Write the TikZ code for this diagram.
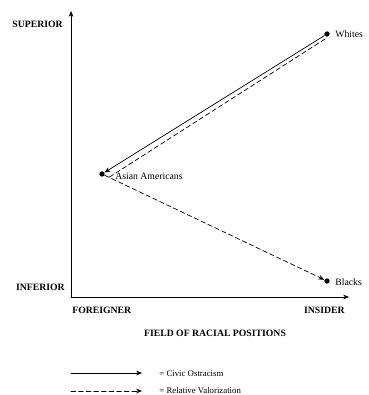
\documentclass[tikz,border=0pt]{standalone}
\usepackage{fontspec}
\setmainfont{Liberation Serif}
\usetikzlibrary{arrows.meta}
\tikzset{
  axislabel/.style={font=\fontsize{8.3}{9}\selectfont\bfseries, inner sep=0pt},
  grouplabel/.style={font=\fontsize{8.3}{9}\selectfont, inner sep=0pt, anchor=west},
  legendtext/.style={font=\fontsize{7.5}{8}\selectfont, inner sep=0pt, anchor=west},
  groupdot/.style={circle, fill=black, inner sep=0pt, minimum size=4.5pt},
  tip/.style={-{Stealth[length=5pt,width=4pt]}},
  dashes/.style={dashed, dash pattern=on 4pt off 2.5pt}
}
\begin{document}
\begin{tikzpicture}[x=0.03cm, y=-0.03cm, line join = round, line cap = round, line width=0.6pt]
      \useasboundingbox (0,0) rectangle (369,395);
      \coordinate (origin) at (71,297);
      \coordinate (ytop) at (71,11);
      \coordinate (xend) at (349,297);

      \draw[tip] (origin)--(ytop);
      \draw[tip] (origin)--(xend);

      \node[axislabel, anchor=east] (superior) at (63,24) {SUPERIOR};
      \node[axislabel, anchor=east] (inferior) at (65,287) {INFERIOR};
      \node[axislabel, anchor=west] (foreigner) at (72,310) {FOREIGNER};
      \node[axislabel, anchor=east] (insider) at (345,310) {INSIDER};
      \node[axislabel] (field) at (215,333) {FIELD OF RACIAL POSITIONS};

      \node[groupdot] (whites) at (327,34) {};
      \node[groupdot] (asian) at (102,174) {};
      \node[groupdot] (blacks) at (327,281) {};
      \node[grouplabel] at (335,34) {Whites};
      \node[grouplabel] at (115,176) {Asian Americans};
      \node[grouplabel] at (335,282) {Blacks};

      \draw[tip] (whites)--(asian);
      \draw[dashes] ([shift={(-2,5)}]whites.center)--([shift={(6,4)}]asian.center);
      \draw[tip, dashes] (asian)--(blacks);

      % legend
      \coordinate (solidA) at (71,373);
      \coordinate (solidB) at (142,373);
      \coordinate (dashA) at (71,391);
      \coordinate (dashB) at (142,391);
      \draw[tip] (solidA)--(solidB);
      \draw[tip, dashes] (dashA)--(dashB);
      \node[legendtext] (civic) at (159,374) {= Civic Ostracism};
      \node[legendtext] (relative) at (159,391) {= Relative Valorization};
\end{tikzpicture}
\end{document}
